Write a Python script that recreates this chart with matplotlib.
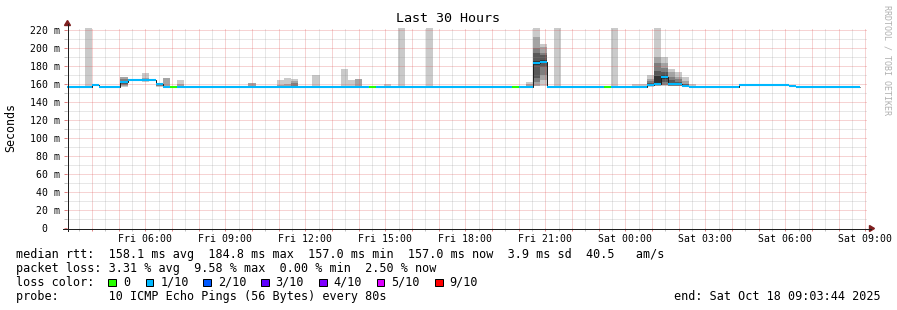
import numpy as np
import matplotlib
matplotlib.use("Agg")
import matplotlib.pyplot as plt
import matplotlib.dates as mdates
from matplotlib.ticker import FuncFormatter, MultipleLocator
from matplotlib.patches import Rectangle, Polygon
from matplotlib.lines import Line2D
from datetime import datetime, timedelta

# ---------------- data ----------------
start_time = datetime(2025, 10, 17, 3, 3, 44)
end_time = datetime(2025, 10, 18, 9, 3, 44)
first_step = datetime(2025, 10, 17, 3, 12)      # start of RRD step 0
step_minutes = 16
last_step = 110

# median rtt (ms), run-length encoded by step index
median_run_steps = [-1, 3, 4, 7, 8, 12, 13, 65, 66, 67, 81, 82, 83, 84, 86, 87, 94, 101, 102]
median_run_values = [157.0, 158.6, 157.0, 161.8, 164.2, 159.6, 157.0, 183.0, 184.8, 157.0,
                     158.8, 160.5, 168.0, 159.8, 158.3, 157.0, 159.2, 158.1, 157.0]
no_loss_steps = [14, 42, 62, 75]     # loss colour "0"; other steps "1/10"

# smoke: 10 sorted ping rtts (ms) for steps with visible spread
smoke_steps = [2, 7, 10, 12, 13, 15, 25, 29, 30, 31, 34, 38, 39, 40, 44, 46, 50,
               64, 65, 66, 68, 76, 79, 80, 81, 82, 83, 84, 85, 86, 87]
smoke_pings = [
    [157, 157, 157, 157, 157, 157, 157, 157, 157, 250],
    [157, 158, 159, 160, 161.5, 162, 163, 165, 167.5, 168],
    [162, 163, 163.5, 164, 164, 164.5, 165, 165.5, 166.3, 172.2],
    [157, 157.5, 158, 158.5, 159.3, 160, 160.3, 160.6, 161, 161.5],
    [157, 157, 157, 157, 157, 157, 157.5, 158, 166.5, 167],
    [157, 157, 157, 157, 157, 157, 157, 157, 160, 164.1],
    [157, 157, 157, 157, 157, 157, 157, 157, 161, 161.2],
    [157, 157, 157, 157, 157, 157, 157, 157, 158.5, 164.4],
    [157, 157, 157, 157, 157, 157, 157, 157.5, 160.3, 166.7],
    [157, 157, 157, 157, 157, 157, 157.5, 161.4, 163.7, 165.9],
    [157, 157, 157, 157, 157, 157, 157, 157, 157, 170],
    [157, 157, 157, 157, 157, 157, 157, 157, 157, 176.7],
    [157, 157, 157, 157, 157, 157, 157, 157, 157, 164.4],
    [157, 157, 157, 157, 157, 157, 157, 157, 165.5, 165.6],
    [157, 157, 157, 157, 157, 157, 157, 157, 157, 159.7],
    [157, 157, 157, 157, 157, 157, 157, 157, 157, 250],
    [157, 157, 157, 157, 157, 157, 157, 157, 157, 250],
    [157, 157, 157, 157, 157, 157, 157, 157, 159.5, 162.2],
    [157.5, 158.1, 162.6, 166.3, 181, 186, 194, 200.5, 212, 250],
    [158, 164.4, 170, 179, 183, 186.5, 192, 194, 201.5, 204.6],
    [157, 157, 157, 157, 157, 157, 157, 157, 157, 250],
    [157, 157, 157, 157, 157, 157, 157, 157, 157, 250],
    [157, 157, 157, 157, 157, 157, 157, 157, 157, 159.5],
    [157, 157, 157, 157, 157, 157, 157, 157, 157, 159.5],
    [157, 157.3, 157.6, 158, 158.5, 159, 161, 163, 166, 169.7],
    [157.5, 158, 158.5, 159, 160, 168.5, 174.1, 183.3, 190, 250],
    [157.5, 158.5, 159.3, 162.2, 166, 170, 173.3, 178.1, 183.7, 190],
    [157.3, 157.8, 158.3, 158.8, 159.5, 161, 164.1, 167.8, 173.3, 177],
    [157.3, 157.7, 158.2, 158.7, 159.3, 160.5, 162.5, 165.2, 167.8, 173.3],
    [157, 157.3, 157.6, 158, 158.2, 158.5, 159.5, 160.5, 163, 167.8],
    [157, 157, 157, 157, 157, 157, 157, 157, 158.3, 160.5],
]

loss_labels = ["0", "1/10", "2/10", "3/10", "4/10", "5/10", "9/10"]
loss_colors = ["#26ff00", "#00b8ff", "#0059ff", "#5e00ff", "#7e00ff", "#dd00ff", "#ff0000"]

title = "Last 30 Hours"
ylabel = "Seconds"
line_rtt = "median rtt:  158.1 ms avg  184.8 ms max  157.0 ms min  157.0 ms now  3.9 ms sd  40.5   am/s"
line_loss = "packet loss: 3.31 % avg  9.58 % max  0.00 % min  2.50 % now"
line_color = "loss color:"
line_probe = "probe:       10 ICMP Echo Pings (56 Bytes) every 80s"
line_end = "end: Sat Oct 18 09:03:44 2025"

# ---------------- figure ----------------
W, H = 897, 310
MONO = "DejaVu Sans Mono"
def fx(x): return x / W
def fy(y): return 1 - y / H

fig = plt.figure(figsize=(W / 100, H / 100), dpi=100)
fig.patch.set_facecolor("white")
ax = fig.add_axes([fx(67), fy(228), 800 / W, 200 / H])
ax.set_facecolor("white")
for s in ax.spines.values():
    s.set_visible(False)

x0 = mdates.date2num(start_time)
x1 = mdates.date2num(end_time)
ax.set_xlim(x0, x1)
ax.set_ylim(0, 222.2)

step_days = step_minutes / 1440.0
step0 = mdates.date2num(first_step)

# smoke
greys = ["#cacaca", "#a4a4a4", "#7e7e7e", "#585858", "#323232"]
for k, p in zip(smoke_steps, smoke_pings):
    p = sorted(p)
    for ii in range(5):
        lo, hi = p[ii], p[9 - ii]
        if hi - lo > 0:
            ax.bar(step0 + k * step_days, hi - lo, bottom=lo, width=step_days, align="edge",
                   color=greys[ii], linewidth=0, zorder=1)

# grid
ax.xaxis.set_major_locator(mdates.HourLocator(byhour=range(24)))
ax.xaxis.set_minor_locator(mdates.MinuteLocator(byminute=[30]))
ax.yaxis.set_major_locator(MultipleLocator(20))
ax.yaxis.set_minor_locator(MultipleLocator(10))
mgrid = dict(color="#de5050", alpha=0.5, lw=0.72, linestyle=(0, (1, 1)), zorder=1.5)
grid = dict(color="#8f8f8f", alpha=0.42, lw=0.72, linestyle=(0, (1, 1)), zorder=1.5)
for v in ax.xaxis.get_majorticklocs():
    if x0 < v < x1:
        ax.axvline(v, **mgrid)
for v in ax.xaxis.get_minorticklocs():
    if x0 < v < x1:
        ax.axvline(v, **grid)
for v in np.arange(10, 221, 10):
    ax.axhline(v, **(mgrid if v % 20 == 0 else grid))

# median line
steps = []
vals = []
for i, (s, v) in enumerate(zip(median_run_steps, median_run_values)):
    e = median_run_steps[i + 1] if i + 1 < len(median_run_steps) else last_step + 1
    for k in range(s, e):
        steps.append(k)
        vals.append(v)
steps = np.array(steps)
vals = np.array(vals)
edges = step0 + np.append(steps, steps[-1] + 1) * step_days
ax.stairs(vals, edges, baseline=None, color="#1f1f1f", lw=0.72, zorder=2)
cols = [loss_colors[0] if k in no_loss_steps else loss_colors[1] for k in steps]
ax.hlines(vals, edges[:-1], edges[1:], colors=cols, lw=1.5, zorder=2.5)

# ticks and labels
def xfmt(v, pos):
    d = mdates.num2date(v)
    return d.strftime("%a %H:%M") if d.hour % 3 == 0 and d.minute == 0 else ""
ax.xaxis.set_major_formatter(FuncFormatter(xfmt))
ax.yaxis.set_major_formatter(FuncFormatter(lambda v, p: "0  " if v == 0 else f"{v:.0f} m"))
ax.tick_params(axis="both", which="major", length=2, width=0.72, color="#e08080",
               direction="out", labelsize=7.15)
ax.tick_params(axis="x", which="major", pad=2.2)
ax.tick_params(axis="y", which="major", pad=3.2)
ax.tick_params(axis="both", which="minor", length=2, width=0.72, color="#c0c0c0", direction="out")
for lab in ax.get_xticklabels() + ax.get_yticklabels():
    lab.set_family(MONO)

# axes lines and arrows
fig.add_artist(Line2D([fx(67.5), fx(67.5)], [fy(231), fy(24)], color="#1f1f1f", lw=0.72,
                      antialiased=False))
fig.add_artist(Line2D([fx(63), fx(871)], [fy(228.5), fy(228.5)], color="#1f1f1f", lw=0.72,
                      antialiased=False))
fig.add_artist(Polygon([[fx(64.5), fy(25.5)], [fx(70.5), fy(25.5)], [fx(67.5), fy(20.5)]],
                       closed=True, transform=fig.transFigure, color="#7f1f1f"))
fig.add_artist(Polygon([[fx(869.5), fy(225.5)], [fx(869.5), fy(231.5)], [fx(874.5), fy(228.5)]],
                       closed=True, transform=fig.transFigure, color="#7f1f1f"))

# title, labels, watermark
fig.text(fx(448), fy(19), title, ha="center", va="center", fontsize=9.6, family=MONO)
fig.text(fx(11), fy(127.5), ylabel, ha="center", va="center", rotation=90, fontsize=8.4, family=MONO)
fig.text(fx(886.5), fy(60), "RRDTOOL / TOBI OETIKER", ha="center", va="center", rotation=270,
         fontsize=6, family=MONO, color="#b0b0b0")

# legend rows
LF = 8.45
rows_y = [254.3, 268.3, 282.3, 296.3]
fig.text(fx(16), fy(rows_y[0]), line_rtt, ha="left", va="center", fontsize=LF, family=MONO)
fig.text(fx(16), fy(rows_y[1]), line_loss, ha="left", va="center", fontsize=LF, family=MONO)
fig.text(fx(16), fy(rows_y[2]), line_color, ha="left", va="center", fontsize=LF, family=MONO)
box_x = [108.3, 145.7, 203.3, 261, 319, 376.7, 435]
for lab, col, bx in zip(loss_labels, loss_colors, box_x):
    fig.add_artist(Rectangle((fx(bx), fy(286.3)), 7.5 / W, 7.5 / H, transform=fig.transFigure,
                             facecolor=col, edgecolor="black", lw=0.72))
    fig.text(fx(bx + 14.5), fy(rows_y[2]), lab, ha="left", va="center", fontsize=LF, family=MONO)
fig.text(fx(16), fy(rows_y[3]), line_probe, ha="left", va="center", fontsize=LF, family=MONO)
fig.text(fx(880.5), fy(rows_y[3]), line_end, ha="right", va="center", fontsize=LF, family=MONO)

fig.savefig("out.png", dpi=100, facecolor="white")
